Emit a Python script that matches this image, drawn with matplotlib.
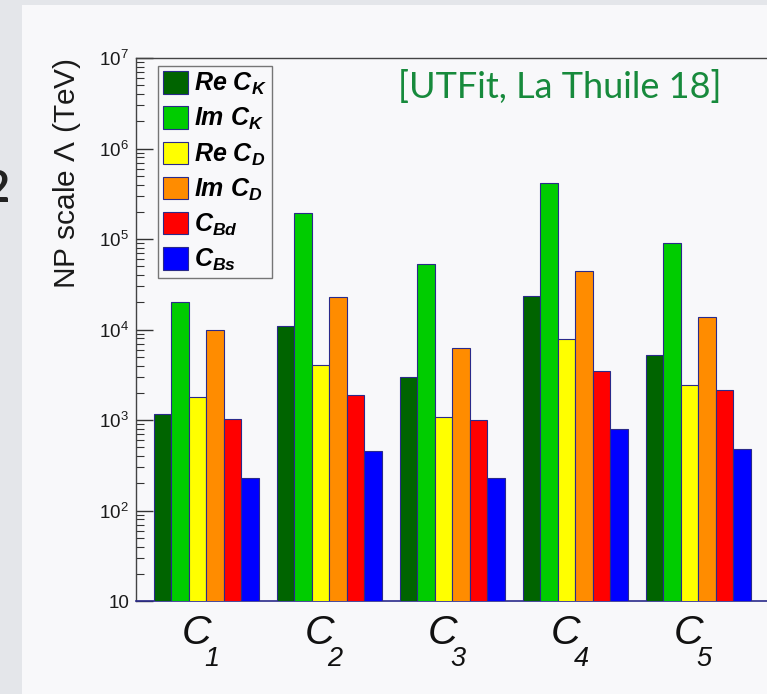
import matplotlib
matplotlib.use("Agg")
import matplotlib.pyplot as plt
import matplotlib.patches as mpatches
from matplotlib.ticker import LogLocator, NullFormatter
import numpy as np

# operators C1..C5, bound on NP scale (TeV)
operators = ["C_1", "C_2", "C_3", "C_4", "C_5"]
re_ck = [1160, 10900, 2985, 23300, 5250]
im_ck = [20000, 193000, 53000, 413000, 91000]
re_cd = [1800, 4040, 1080, 7900, 2420]
im_cd = [10000, 23000, 6180, 44700, 13900]
c_bd = [1020, 1890, 1000, 3450, 2130]
c_bs = [229, 450, 229, 790, 476]

series_labels = [r"$\mathbfit{Re\ C_{K}}$", r"$\mathbfit{Im\ C_{K}}$",
                 r"$\mathbfit{Re\ C_{D}}$", r"$\mathbfit{Im\ C_{D}}$",
                 r"$\mathbfit{C_{Bd}}$", r"$\mathbfit{C_{Bs}}$"]
series_colors = ["#006400", "#00cc00", "#ffff00", "#ff8c00", "#ff0000", "#0000ff"]

ytick_vals = [10, 1e2, 1e3, 1e4, 1e5, 1e6, 1e7]
ytick_labels = ["10", r"$10^{2}$", r"$10^{3}$", r"$10^{4}$",
                r"$10^{5}$", r"$10^{6}$", r"$10^{7}$"]

plt.rcParams["mathtext.fontset"] = "custom"
plt.rcParams["mathtext.rm"] = "Liberation Sans"
plt.rcParams["mathtext.it"] = "Liberation Sans:italic"
plt.rcParams["mathtext.bf"] = "Liberation Sans:bold"
plt.rcParams["mathtext.bfit"] = "Liberation Sans:bold:italic"
plt.rcParams["font.family"] = ["Liberation Sans", "DejaVu Sans"]

W, H = 767, 694
SLIDE_BG = "#e4e6ea"
PANEL_BG = "#f8f8fa"
TITLE_GREEN = "#178a3c"
EDGE = "#2a2a8a"
PT = 0.72  # points per pixel at dpi 100


def px(x, y):
    # pixel position (from top-left) -> figure fraction
    return x / W, 1 - y / H


fig = plt.figure(figsize=(W / 100, H / 100), dpi=100, facecolor=SLIDE_BG)

# white slide panel behind the screenshot
fig.patches.append(mpatches.Rectangle((22 / W, 0), 1 - 22 / W, 1 - 5 / H,
                                      transform=fig.transFigure,
                                      facecolor=PANEL_BG, edgecolor="none", zorder=-5))

# axes run off the right edge like in the slide crop
left, right, top, bottom = 136, 812.5, 58, 601
ax = fig.add_axes([left / W, 1 - bottom / H, (right - left) / W, (bottom - top) / H])
ax.set_facecolor("none")

all_series = [re_ck, im_ck, re_cd, im_cd, c_bd, c_bs]
n_ops = len(operators)
bw = 1 / 7
x0 = np.arange(n_ops)
for k, (vals, lab, col) in enumerate(zip(all_series, series_labels, series_colors)):
    ax.bar(x0 + (k + 1.5) * bw, vals, width=bw, color=col, edgecolor=EDGE,
           linewidth=0.8, log=True, label=lab, zorder=3)

ax.set_yscale("log")
ax.set_ylim(10, 1e7)
ax.set_xlim(0, (right - left) / 123)

ax.set_yticks(ytick_vals, ytick_labels)
ax.yaxis.set_minor_locator(LogLocator(base=10, subs=np.arange(2, 10)))
ax.yaxis.set_minor_formatter(NullFormatter())
ax.tick_params(axis="y", which="major", direction="in", length=12, width=1,
               color="#333333", labelsize=13.5, labelcolor="#1a1a1a", pad=5)
ax.tick_params(axis="y", which="minor", direction="in", length=6, width=0.8,
               color="#333333")

# operator labels: big italic C with a dropped subscript, ROOT style
ax.set_xticks(x0 + 0.5, [""] * n_ops)
ax.tick_params(axis="x", which="both", length=0)
for xc, name in zip(x0 + 0.5, operators):
    base, sub = name.split("_")
    ax.annotate(base, xy=(xc, 0), xycoords=("data", "axes fraction"),
                xytext=(-1 * PT, -43 * PT), textcoords="offset points",
                ha="center", va="baseline", fontsize=29.5, style="italic",
                color="#111111", annotation_clip=False)
    ax.annotate(sub, xy=(xc, 0), xycoords=("data", "axes fraction"),
                xytext=(7 * PT, -65 * PT), textcoords="offset points",
                ha="left", va="baseline", fontsize=19.5, style="italic",
                color="#111111", annotation_clip=False)

for side in ["left", "top"]:
    ax.spines[side].set_color("#444444")
    ax.spines[side].set_linewidth(1.0)
ax.spines["bottom"].set_color(EDGE)
ax.spines["bottom"].set_linewidth(1.2)
ax.spines["right"].set_visible(False)

leg = ax.legend(loc="upper left", bbox_to_anchor=px(158, 66),
                bbox_transform=fig.transFigure, borderaxespad=0,
                fontsize=18, handlelength=1.0, handleheight=1.0,
                handletextpad=0.25, labelspacing=0.36, borderpad=0.2,
                fancybox=False, frameon=True)
leg.get_frame().set_edgecolor("#555555")
leg.get_frame().set_linewidth(1.0)
leg.get_frame().set_facecolor(PANEL_BG)
leg.set_zorder(5)

fig.text(*px(67, 58), r"NP scale $\Lambda$ (TeV)", rotation=90,
         ha="center", va="top", fontsize=21.5, color="#1a1a1a")

fig.text(*px(398, 98), "[UTFit, La Thuile 18]", ha="left", va="baseline",
         fontsize=26, color=TITLE_GREEN, family=["Lato", "DejaVu Sans"])

# partly visible slide number on the far left
fig.text(*px(9, 189), "2", ha="right", va="center", fontsize=31,
         fontweight="bold", color="#222222", family=["Lato", "DejaVu Sans"])

fig.savefig("out.png", dpi=100, facecolor=SLIDE_BG)
